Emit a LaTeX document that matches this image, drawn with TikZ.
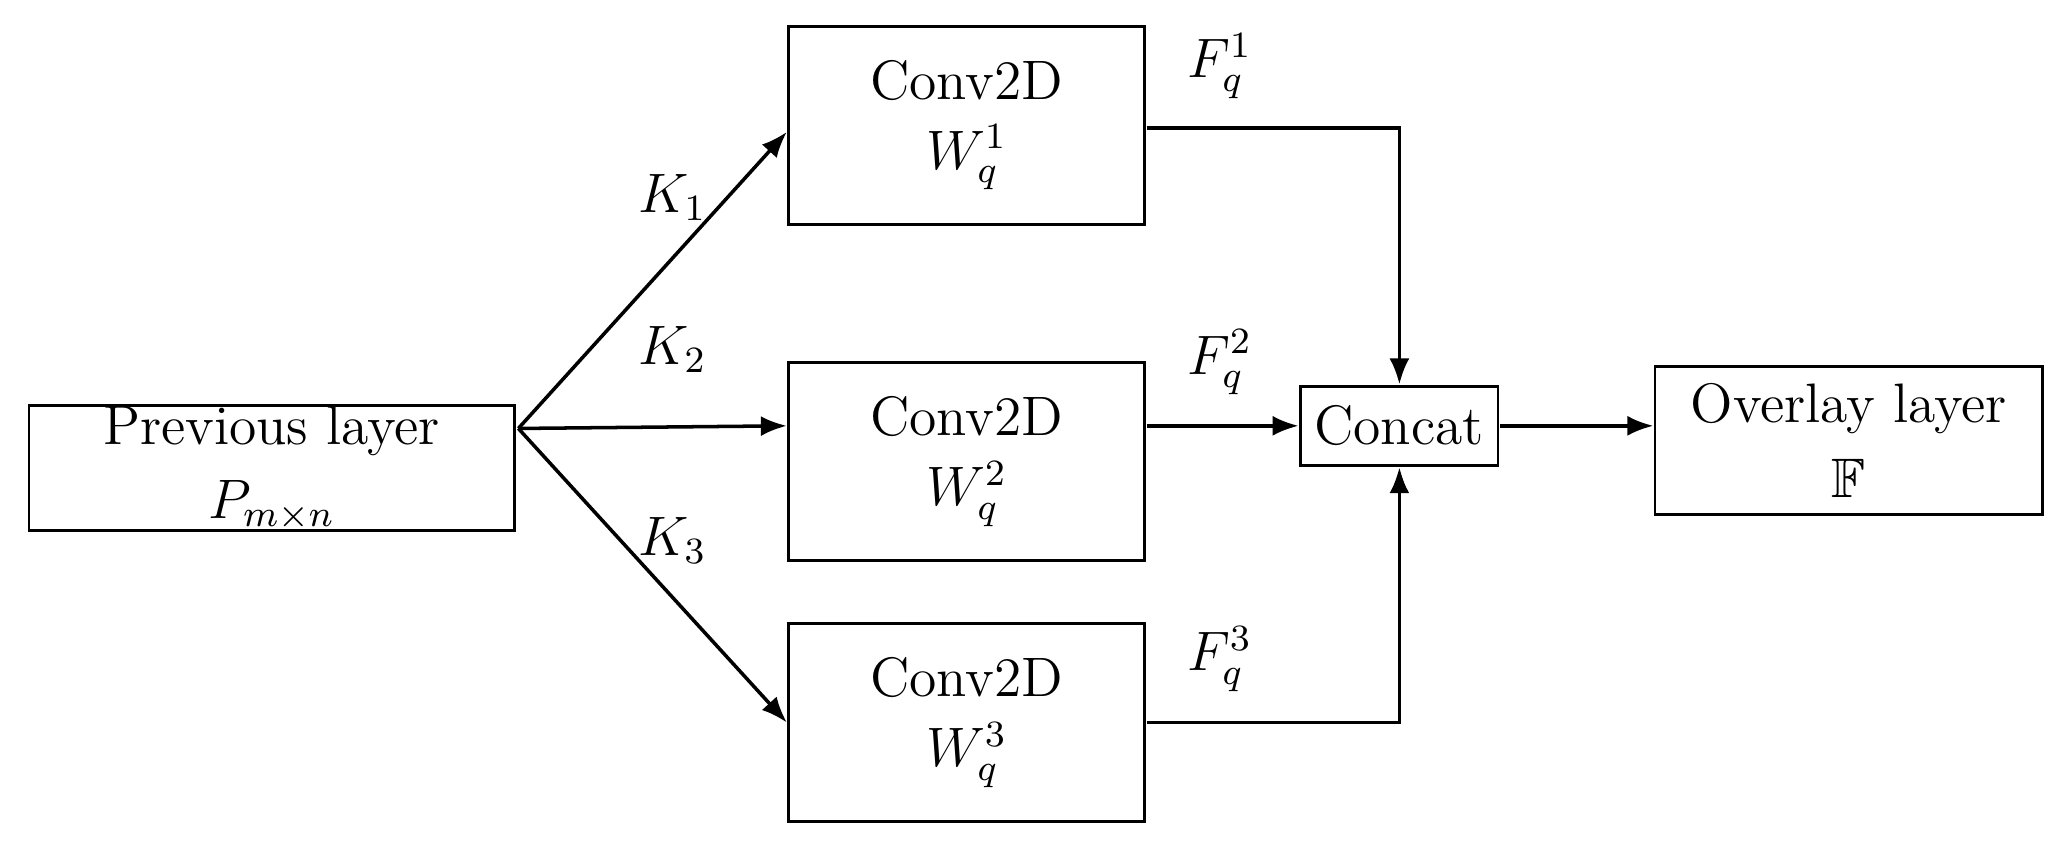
\documentclass[tikz,border=0pt]{standalone}
\usepackage{amssymb}
\usepackage{amsmath}
\usetikzlibrary{arrows.meta}

\begin{document}
\begin{tikzpicture}[scale=1.3187, font=\large,
    every node/.style={scale=1.3187},
    blk/.style={draw, line width=0.8pt, inner sep=0pt, align=center},
    link/.style={line width=1pt, -{Latex[length=2.6mm,width=2mm]}}]
    \useasboundingbox (0,0) rectangle (15.69,6.45);
    % boxes
    \node[blk, minimum width=3.68cm, minimum height=0.94cm] (prev) at (2.06,2.90) {Previous layer\\[2pt]$P_{m\times n}$};
    \foreach \i/\y in {1/5.50,2/2.95,3/0.97}{
        \node[blk, minimum width=2.70cm, minimum height=1.50cm] (conv\i) at (7.33,\y) {Conv2D\\[1pt]$W_q^{\i}$};
    }
    \node[blk, minimum width=1.50cm, minimum height=0.60cm] (cat) at (10.61,3.22) {Concat};
    \node[blk, minimum width=2.94cm, minimum height=1.12cm] (over) at (14.02,3.11) {Overlay layer\\[2pt]$\mathbb{F}$};
    % fan out
    \coordinate (fan) at (3.93,3.20);
    \draw[link] (fan) -- (conv1.west |- 0,5.45);
    \draw[link] (fan) -- (conv2.west |- cat.west);
    \draw[link] (fan) -- (conv3.west);
    \node (k1) at (5.10,4.95) {$K_1$};
    \node (k2) at (5.10,3.80) {$K_2$};
    \node (k3) at (5.10,2.35) {$K_3$};
    % merge
    \draw[link] (conv1.east |- 0,5.48) -| (cat.north);
    \draw[link] (conv2.east |- cat.west) -- (cat.west);
    \draw[link] (conv3.east) -| (cat.south);
    \draw[link] (cat.east) -- (over.west |- cat.east);
    \node (f1) at (9.25,5.95) {$F_q^1$};
    \node (f2) at (9.25,3.70) {$F_q^2$};
    \node (f3) at (9.25,1.45) {$F_q^3$};
\end{tikzpicture}
\end{document}
